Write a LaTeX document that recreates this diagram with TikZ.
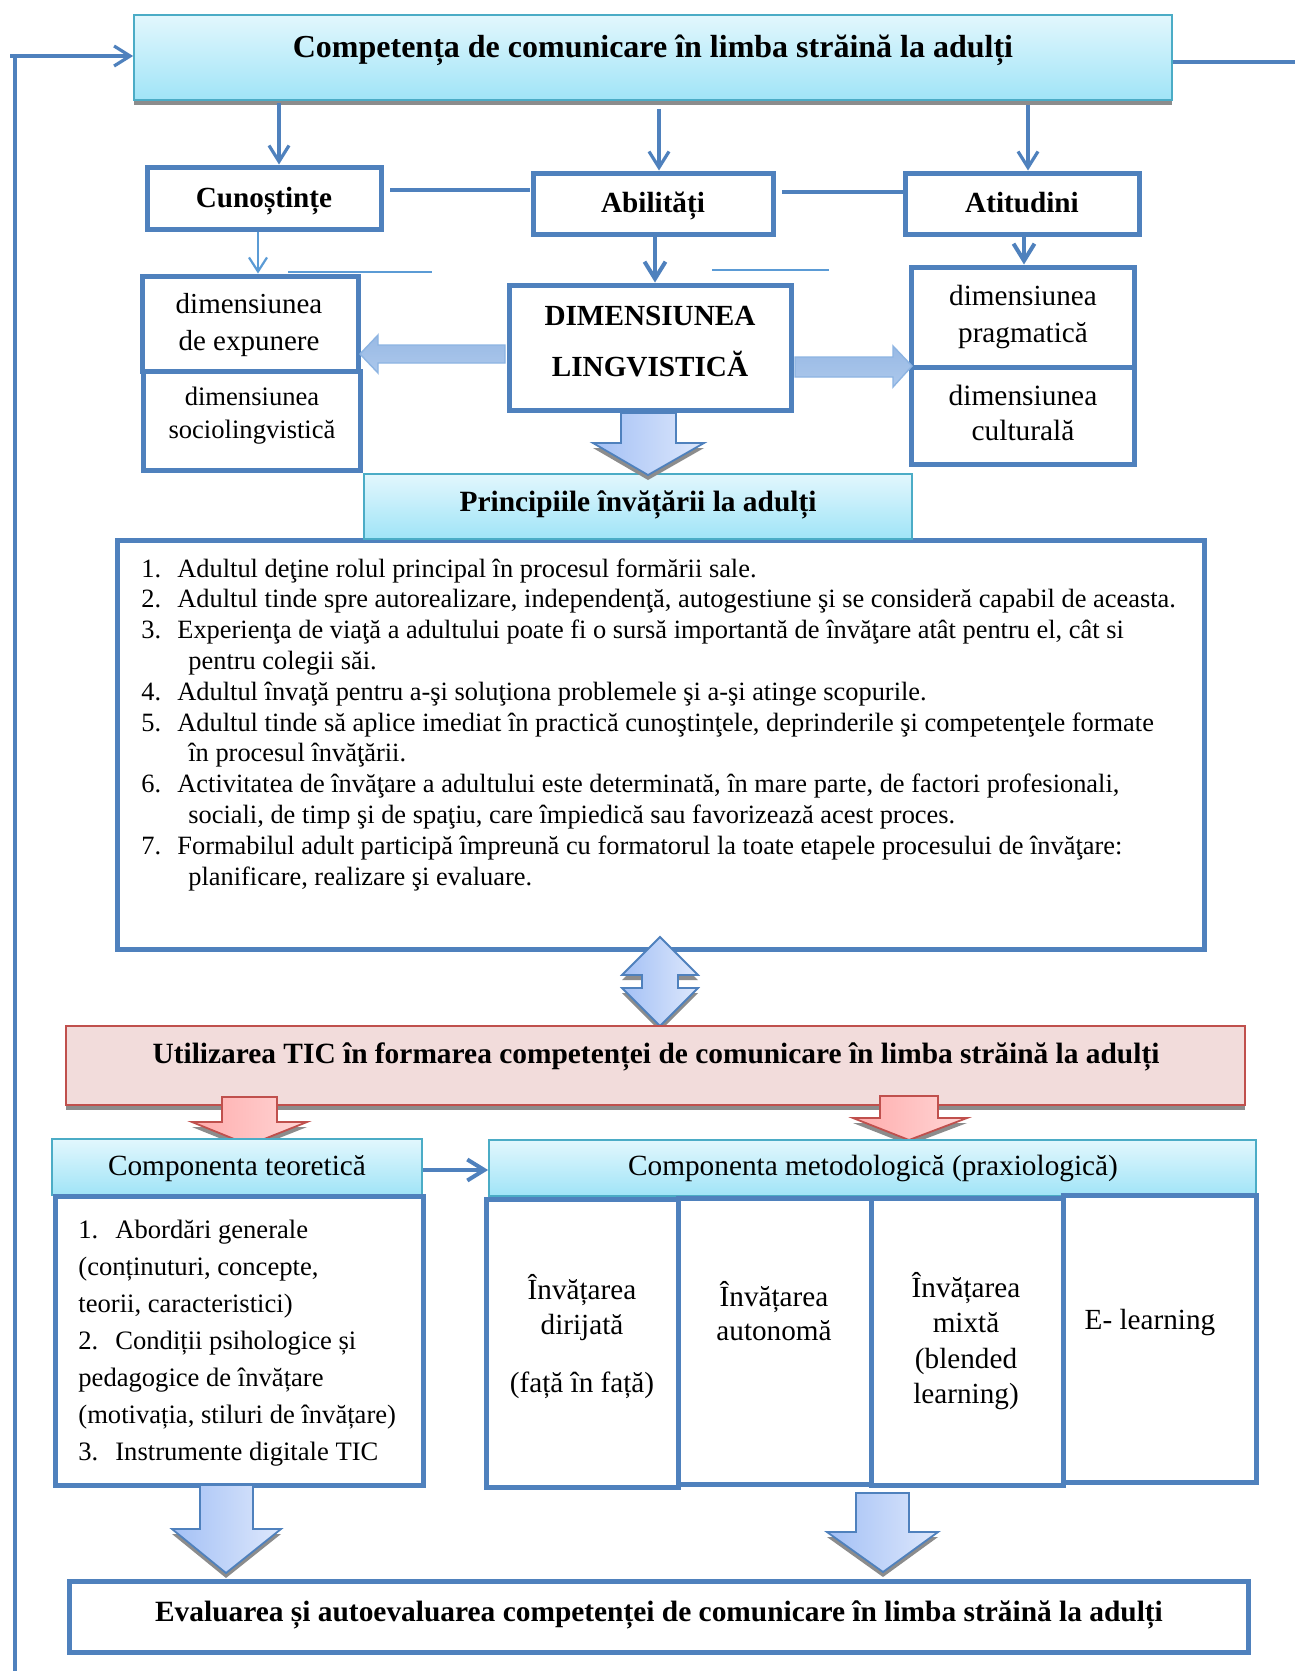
\documentclass[tikz,border=0pt]{standalone}
\usepackage{fontspec}
\setmainfont{Liberation Serif}
\usetikzlibrary{arrows.meta,shadows}

\definecolor{boxblue}{RGB}{79,129,189}
\definecolor{cyanline}{RGB}{75,172,198}
\definecolor{cyantop}{RGB}{226,247,253}
\definecolor{cyanbot}{RGB}{160,228,247}
\definecolor{pinkfill}{RGB}{242,220,219}
\definecolor{redline}{RGB}{192,80,77}
\definecolor{redL}{RGB}{255,172,172}
\definecolor{redR}{RGB}{255,214,214}
\definecolor{bluL}{RGB}{163,192,245}
\definecolor{bluR}{RGB}{222,232,252}
\definecolor{midtop}{RGB}{152,185,228}
\definecolor{midbot}{RGB}{172,200,236}
\definecolor{midline}{RGB}{141,180,226}
\definecolor{lightline}{RGB}{91,155,213}

\begin{document}
\begin{tikzpicture}[x=0.5pt,y=-0.5pt,
  bluebox/.style={draw=boxblue, line width=2.5pt, fill=white, inner sep=0pt},
  cyanbox/.style={draw=cyanline, line width=0.9pt, top color=cyantop, bottom color=cyanbot, inner sep=0pt},
  pinkbox/.style={draw=redline, line width=0.9pt, fill=pinkfill, inner sep=0pt,
     drop shadow={shadow xshift=0pt, shadow yshift=-2.5pt, fill=black!45, opacity=1}},
  shadowed/.style={drop shadow={shadow xshift=0pt, shadow yshift=-2.5pt, fill=black!45, opacity=1}},
  txt/.style={inner sep=0pt, anchor=base},
  boldtxt/.style={txt, font=\bfseries\fontsize{14.6}{17}\selectfont},
  thinarrow/.style={draw=boxblue, line width=1.6pt, -{Straight Barb[length=8pt,width=10pt,line width=1.6pt]}},
  fatarrow/.style={draw=boxblue, line width=2pt, -{Straight Barb[length=8.5pt,width=10.5pt,line width=2pt]}},
  linkline/.style={draw=boxblue, line width=1.8pt},
  strayline/.style={draw=lightline, line width=1pt},
  bluearrow/.style={draw=boxblue, line width=0.9pt, left color=bluL, right color=bluR, shadowed},
  redarrow/.style={draw=redline, line width=0.9pt, left color=redL, right color=redR, shadowed},
  midarrow/.style={draw=midline, line width=0.7pt, top color=midtop, bottom color=midbot}
]
\useasboundingbox[fill=white] (0,0) rectangle (1295,1671);

% ---------- top box ----------
\node[cyanbox, shadowed, minimum width=519pt, minimum height=42.5pt] (top) at (653,57.5) {};
\node[txt, font=\bfseries\fontsize{16}{19}\selectfont] (toptxt) at (653,57) {Competența de comunicare în limba străină la adulți};

% feedback loop
\coordinate (fbtop) at (15,58);
\coordinate (fbbot) at (15,1671);
\coordinate (fbstart) at (10,56);
\coordinate (rtend) at (1295,62);
\draw[linkline] (fbtop) -- (fbbot);
\draw[thinarrow] (fbstart) -- (fbstart -| top.west);
\draw[linkline] (top.east |- rtend) -- (rtend);

% ---------- level 2 ----------
\node[bluebox, minimum width=117pt, minimum height=31pt] (cun) at (264,198) {};
\node[bluebox, minimum width=120pt, minimum height=30.5pt] (abil) at (653,203.5) {};
\node[bluebox, minimum width=117pt, minimum height=30.5pt] (atit) at (1022,203.5) {};
\node[boldtxt] (cuntxt) at (264,207) {Cunoștințe};
\node[boldtxt] (abiltxt) at (653,212) {Abilități};
\node[boldtxt] (atittxt) at (1022,212) {Atitudini};

\coordinate (ax1) at (279,0);
\coordinate (ax2) at (659,0);
\coordinate (ax3) at (1028,0);
\draw[thinarrow] ([yshift=-1pt]top.south -| ax1) -- (cun.north -| ax1);
\draw[thinarrow] ([yshift=-4pt]top.south -| ax2) -- (abil.north -| ax2);
\draw[thinarrow] ([yshift=-2pt]top.south -| ax3) -- (atit.north -| ax3);

\coordinate (l1a) at (390,190);
\coordinate (l1b) at (530,190);
\coordinate (l2a) at (782,192);
\coordinate (l2b) at (904,192);
\draw[linkline] (l1a) -- (l1b);
\draw[linkline] (l2a) -- (l2b);

% ---------- level 3 ----------
\node[bluebox, minimum width=108pt, minimum height=47.5pt] (expu) at (250,323.5) {};
\node[bluebox, minimum width=108.5pt, minimum height=49.5pt] (socio) at (251.5,420.5) {};
\node[bluebox, minimum width=141pt, minimum height=62.5pt] (ling) at (650,347.5) {};
\node[bluebox, minimum width=111.5pt, minimum height=50pt] (prag) at (1022.5,317) {};
\node[bluebox, minimum width=111.5pt, minimum height=48.5pt] (cult) at (1022.5,415.5) {};

\node[txt, font=\fontsize{14.5}{18.5}\selectfont] (expt) at (249,313) {\begin{tabular}[t]{@{}c@{}}dimensiunea\\de expunere\end{tabular}};
\node[txt, font=\fontsize{13.3}{16.5}\selectfont] (soct) at (252,405) {\begin{tabular}[t]{@{}c@{}}dimensiunea\\sociolingvistică\end{tabular}};
\node[txt, font=\bfseries\fontsize{14.6}{25.5}\selectfont] (lingt) at (650,325) {\begin{tabular}[t]{@{}c@{}}DIMENSIUNEA\\LINGVISTICĂ\end{tabular}};
\node[txt, font=\fontsize{14.6}{18.5}\selectfont] (pragt) at (1023,305) {\begin{tabular}[t]{@{}c@{}}dimensiunea\\pragmatică\end{tabular}};
\node[txt, font=\fontsize{14.7}{17.5}\selectfont] (cultt) at (1023,405) {\begin{tabular}[t]{@{}c@{}}dimensiunea\\culturală\end{tabular}};

\coordinate (bx1) at (258,0);
\coordinate (bx2) at (655,0);
\coordinate (bx3) at (1024,0);
\draw[draw=lightline, line width=1.1pt, -{Straight Barb[length=7pt,width=9pt,line width=1.1pt]}] (cun.south -| bx1) -- (expu.north -| bx1);
\draw[fatarrow] (abil.south -| bx2) -- (ling.north -| bx2);
\draw[fatarrow] (atit.south -| bx3) -- (prag.north -| bx3);

\coordinate (s1a) at (288,272);
\coordinate (s1b) at (432,272);
\coordinate (s2a) at (712,270);
\coordinate (s2b) at (829,270);
\draw[strayline] (s1a) -- (s1b);
\draw[strayline] (s2a) -- (s2b);

% horizontal block arrows
\path[midarrow] (505,345) -- (378,345) -- (378,335) -- (360,354) -- (378,373) -- (378,363) -- (505,363) -- cycle;
\path[midarrow] (795,357) -- (893,357) -- (893,346) -- (912,366) -- (893,387) -- (893,377) -- (795,377) -- cycle;

% ---------- principles ----------
\node[bluebox, minimum width=543.5pt, minimum height=204.5pt] (plist) at (660.5,744.5) {};
\node[cyanbox, minimum width=274pt, minimum height=32.5pt] (phead) at (638,506.5) {};
\node[txt, font=\bfseries\fontsize{14.7}{17}\selectfont] (pheadt) at (638,511) {Principiile învățării la adulți};

% down block arrow
\path[bluearrow] (621,413) -- (676,413) -- (676,443) -- (704,443) -- (648,475) -- (593,443) -- (621,443) -- cycle;

\node[inner sep=0pt, anchor=base west, font=\fontsize{13.2}{15.4}\selectfont] (plistt) at (141,577) {\begin{tabular}[t]{@{}l@{}}
\makebox[18pt][l]{1.}Adultul deţine rolul principal în procesul formării sale.\\
\makebox[18pt][l]{2.}Adultul tinde spre autorealizare, independenţă, autogestiune şi se consideră capabil de aceasta.\\
\makebox[18pt][l]{3.}Experienţa de viaţă a adultului poate fi o sursă importantă de învăţare atât pentru el, cât si\\
\hspace*{23.5pt}pentru colegii săi.\\
\makebox[18pt][l]{4.}Adultul învaţă pentru a-şi soluţiona problemele şi a-şi atinge scopurile.\\
\makebox[18pt][l]{5.}Adultul tinde să aplice imediat în practică cunoştinţele, deprinderile şi competenţele formate\\
\hspace*{23.5pt}în procesul învăţării.\\
\makebox[18pt][l]{6.}Activitatea de învăţare a adultului este determinată, în mare parte, de factori profesionali,\\
\hspace*{23.5pt}sociali, de timp şi de spaţiu, care împiedică sau favorizează acest proces.\\
\makebox[18pt][l]{7.}Formabilul adult participă împreună cu formatorul la toate etapele procesului de învăţare:\\
\hspace*{23.5pt}planificare, realizare şi evaluare.
\end{tabular}};

% double arrow
\path[bluearrow] (660,937) -- (698,975) -- (678,975) -- (678,988) -- (698,988) -- (660,1026) -- (622,988) -- (642,988) -- (642,975) -- (622,975) -- cycle;

% ---------- TIC ----------
\node[pinkbox, minimum width=589.5pt, minimum height=39.5pt] (tic) at (655.5,1065.5) {};
\node[txt, font=\bfseries\fontsize{14.7}{17}\selectfont] (tict) at (656,1063.5) {Utilizarea TIC în formarea competenței de comunicare în limba străină la adulți};

% red arrows
\path[redarrow] (222,1097) -- (277,1097) -- (277,1122) -- (307,1122) -- (249,1145) -- (192,1122) -- (222,1122) -- cycle;
\path[redarrow] (880,1096) -- (938,1096) -- (938,1118) -- (967,1118) -- (909,1140) -- (853,1118) -- (880,1118) -- cycle;

% ---------- components ----------
\node[cyanbox, minimum width=185pt, minimum height=28pt] (teor) at (237,1167) {};
\node[cyanbox, minimum width=383.5pt, minimum height=28pt] (metod) at (872.5,1168) {};
\node[txt, font=\fontsize{14.65}{17}\selectfont] (teort) at (237,1175) {Componenta teoretică};
\node[txt, font=\fontsize{14.65}{17}\selectfont] (metodt) at (873,1175) {Componenta metodologică (praxiologică)};
\coordinate (tm) at (0,1170);
\draw[fatarrow] (teor.east |- tm) -- (metod.west |- tm);

\node[bluebox, minimum width=184pt, minimum height=144.5pt] (tlist) at (239,1340.5) {};
\node[inner sep=0pt, anchor=base west, font=\fontsize{13.3}{18.5}\selectfont] (tlistt) at (78,1238) {\begin{tabular}[t]{@{}l@{}}
\makebox[18.5pt][l]{1.}Abordări generale\\
(conținuturi, concepte,\\
teorii, caracteristici)\\
\makebox[18.5pt][l]{2.}Condiții psihologice și\\
pedagogice de învățare\\
(motivația, stiluri de învățare)\\
\makebox[18.5pt][l]{3.}Instrumente digitale TIC
\end{tabular}};

\node[bluebox, minimum width=96pt, minimum height=144pt] (c1) at (582,1343) {};
\node[bluebox, minimum width=96.5pt, minimum height=143pt] (c2) at (774.5,1341) {};
\node[bluebox, minimum width=96pt, minimum height=143.5pt] (c3) at (967,1341.5) {};
\node[bluebox, minimum width=96.5pt, minimum height=143.5pt] (c4) at (1159.5,1338.5) {};
\node[txt, font=\fontsize{14.6}{17.75}\selectfont] (c1t) at (582,1299) {\begin{tabular}[t]{@{}c@{}}Învățarea\\dirijată\\[11pt](față în față)\end{tabular}};
\node[txt, font=\fontsize{14.6}{17}\selectfont] (c2t) at (774,1306) {\begin{tabular}[t]{@{}c@{}}Învățarea\\autonomă\end{tabular}};
\node[txt, font=\fontsize{14.6}{17.8}\selectfont] (c3t) at (966,1297) {\begin{tabular}[t]{@{}c@{}}Învățarea\\mixtă\\(blended\\learning)\end{tabular}};
\node[txt, font=\fontsize{14.6}{17}\selectfont] (c4t) at (1150,1329) {E- learning};

% bottom arrows
\path[bluearrow] (200,1485) -- (253,1485) -- (253,1529) -- (281,1529) -- (226,1573) -- (172,1529) -- (200,1529) -- cycle;
\path[bluearrow] (856,1493) -- (909,1493) -- (909,1532) -- (938,1532) -- (883,1572) -- (827,1532) -- (856,1532) -- cycle;

% ---------- evaluation ----------
\node[bluebox, minimum width=589.5pt, minimum height=35.5pt] (eval) at (658.5,1616.5) {};
\node[txt, font=\bfseries\fontsize{14.7}{17}\selectfont] (evalt) at (659,1621) {Evaluarea și autoevaluarea competenței de comunicare în limba străină la adulți};
\end{tikzpicture}
\end{document}
